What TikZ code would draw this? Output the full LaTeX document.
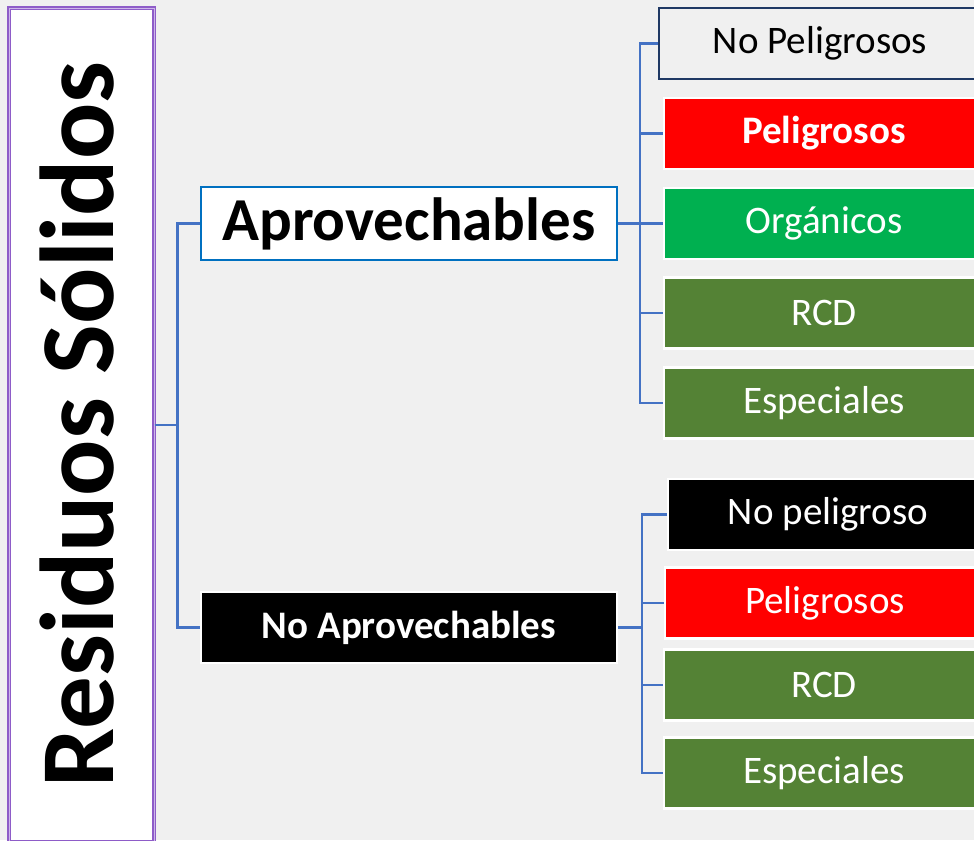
\documentclass[tikz,border=0pt]{standalone}
\usepackage{fontspec}
\setmainfont{Carlito}
\definecolor{bg}{HTML}{F0F0F0}
\definecolor{conn}{HTML}{4472C4}
\definecolor{aprovblue}{HTML}{0070C0}
\definecolor{navy}{HTML}{1F3864}
\definecolor{cred}{HTML}{FF0000}
\definecolor{cgreen}{HTML}{00B050}
\definecolor{cdgreen}{HTML}{548235}
\definecolor{purpA}{HTML}{8E5CC8}
\definecolor{purpL}{HTML}{CDB6EA}
\tikzset{
  connline/.style={draw=conn, line width=1.8pt},
  catbox/.style={rectangle, inner sep=0pt, minimum width=320*0.75pt, minimum height=71*0.75pt,
    draw=white, line width=1.8pt, text=white, font=\fontsize{29.25}{35}\selectfont},
  midbox/.style={rectangle, inner sep=0pt, minimum width=416*0.75pt, line width=1.8pt},
}
\begin{document}
\begin{tikzpicture}[x=0.75pt,y=-0.75pt]
\useasboundingbox (0,0) rectangle (974,840);
\clip (0,0) rectangle (974,840);
\fill[bg] (0,0) rectangle (974,840);
% left box
\node[rectangle, inner sep=0pt, fill=white, draw=purpA, double=purpL, double distance=0.75pt, line width=0.9pt,
  minimum width=145*0.75pt, minimum height=834*0.75pt] (rs) at (81.5,425) {};
\node[rotate=90, anchor=base, inner sep=0pt, font=\bfseries\fontsize{78.75}{90}\selectfont] (rstext) at (113,424.5) {Residuos Sólidos};
% middle boxes
\node[midbox, minimum height=73*0.75pt, fill=white, draw=aprovblue, font=\bfseries\fontsize{45.75}{52}\selectfont] (aprov) at (409,223.5) {Aprovechables};
\node[midbox, minimum height=71*0.75pt, fill=black, draw=white, text=white, font=\bfseries\fontsize{29.25}{35}\selectfont] (noaprov) at (409,627.5) {No Aprovechables};
% right boxes, top group
\node[catbox, minimum width=322*0.75pt, fill=bg, draw=navy, text=black] (np1) at (820,43.5) {No Peligrosos};
\node[catbox, fill=cred, font=\bfseries\fontsize{29.25}{35}\selectfont] (p1) at (824,133.5) {Peligrosos};
\node[catbox, fill=cgreen] (org) at (824,223.5) {Orgánicos};
\node[catbox, fill=cdgreen] (rcd1) at (824,313) {RCD};
\node[catbox, fill=cdgreen] (esp1) at (824,403) {Especiales};
% right boxes, bottom group
\node[catbox, fill=black] (np2) at (828,514.5) {No peligroso};
\node[catbox, fill=cred] (p2) at (825,603) {Peligrosos};
\node[catbox, fill=cdgreen] (rcd2) at (824,685) {RCD};
\node[catbox, fill=cdgreen] (esp2) at (824,773) {Especiales};
% connectors
\draw[connline] (rs.east) -- ++(23,0) |- (aprov.west);
\draw[connline] (rs.east) -- ++(23,0) |- (noaprov.west);
\foreach \t in {np1,p1,org,rcd1,esp1}{
  \draw[connline] (aprov.east) -- ++(22,0) |- (\t.west);
}
\foreach \t in {np2,p2,rcd2,esp2}{
  \draw[connline] (noaprov.east) -- ++(24,0) |- (\t.west);
}
\end{tikzpicture}
\end{document}
